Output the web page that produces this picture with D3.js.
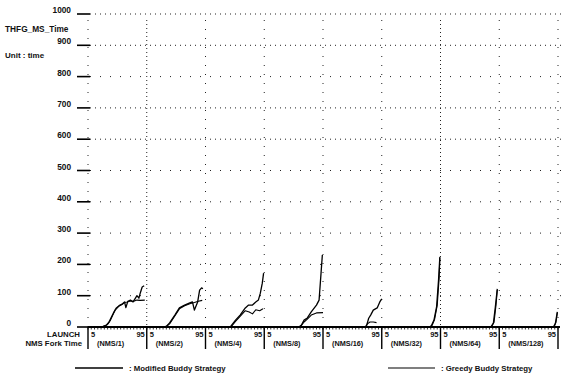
<!DOCTYPE html>
<html>
<head>
<meta charset="utf-8">
<script src="https://cdn.jsdelivr.net/npm/d3@7/dist/d3.min.js"></script>
<style>
  html, body { margin: 0; padding: 0; background: #fff; }
  svg text { font-family: "Liberation Sans", Arial, sans-serif; font-weight: bold; fill: #111; }
</style>
</head>
<body>
<svg id="chart" width="564" height="380"></svg>
<script>
// Y axis levels (execution time)
const yTicks = [0, 100, 200, 300, 400, 500, 600, 700, 800, 900, 1000];

// One panel per fork-time setting
const segments = ["(NMS/1)", "(NMS/2)", "(NMS/4)", "(NMS/8)", "(NMS/16)", "(NMS/32)", "(NMS/64)", "(NMS/128)"];

// Time-axis labels at the edges of each panel
const tStart = 5;
const tEnd = 95;

// Modified Buddy Strategy: [time, value] per panel
const modifiedSeries = [
  [[5,0],[22,0],[28,2],[33,6],[37,15],[40,28],[44,45],[48,60],[54,70],[58,74],[61,80],[63,62],[66,82],[70,86],[74,80],[77,90],[80,100],[83,92],[85,108],[88,128],[91,132]],
  [[5,0],[32,0],[36,4],[40,13],[48,38],[55,61],[63,70],[71,77],[75,80],[78,54],[83,80],[86,118],[89,125],[91,122]],
  [[5,0],[43,0],[51,22],[58,38],[66,61],[71,70],[77,70],[82,80],[86,86],[89,108],[92,140],[94,172]],
  [[5,0],[58,0],[62,6],[66,22],[71,29],[77,48],[85,70],[89,86],[92,172],[94,230]],
  [[5,0],[70,0],[72,6],[75,28],[78,38],[82,54],[88,61],[92,80],[95,90]],
  [[5,0],[78,0],[81,4],[85,22],[89,64],[92,150],[94,224]],
  [[5,0],[82,0],[86,12],[89,64],[92,122]],
  [[5,0],[88,0],[91,12],[94,48]]
];

// Greedy Buddy Strategy: [time, value] per panel
const greedySeries = [
  [[5,0],[24,0],[30,2],[35,8],[39,20],[43,38],[47,55],[52,66],[57,72],[61,78],[65,80],[70,83],[75,82],[80,86],[85,85],[92,86]],
  [[5,0],[34,0],[40,10],[48,35],[55,58],[63,68],[71,74],[78,78],[84,82],[90,85]],
  [[5,0],[44,0],[51,18],[58,34],[66,52],[72,48],[77,42],[82,55],[88,52],[93,58]],
  [[5,0],[60,0],[66,16],[71,25],[77,38],[85,45],[95,46]],
  [[5,0],[70,0],[73,10],[77,16],[82,16],[87,14]],
  [[5,0],[79,0],[82,5],[86,25],[90,70],[93,160],[94,220]],
  [[5,0],[83,0],[87,15],[90,70],[92,118]],
  [[5,0],[89,0],[92,16],[94,46]]
];

const legendLabels = [": Modified Buddy Strategy", ": Greedy Buddy Strategy"];

const svg = d3.select("#chart");

const y = d3.scaleLinear().domain([0, 1000]).range([327, 14]);
const seg = d3.scaleLinear().domain([0, segments.length]).range([88, 558]);
const segX = i => d3.scaleLinear().domain([tStart, tEnd]).range([seg(i), seg(i + 1)]);

// dotted horizontal grid
svg.append("g").selectAll("line").data(yTicks.filter(d => d > 0)).join("line")
  .attr("x1", 90).attr("x2", 562)
  .attr("y1", d => y(d)).attr("y2", d => y(d))
  .attr("stroke", "#222").attr("stroke-width", 1)
  .attr("stroke-dasharray", d => (d >= 900 || d === 600 || d === 700) ? "1,4" : "1,9");

// dotted vertical separators
svg.append("g").selectAll("line").data(d3.range(segments.length + 1)).join("line")
  .attr("x1", d => seg(d)).attr("x2", d => seg(d))
  .attr("y1", y(1000) + 6).attr("y2", y(0))
  .attr("stroke", "#222").attr("stroke-width", 1)
  .attr("stroke-dasharray", d => (d === 1 || d === 6) ? "1,3" : "1,8");

// y axis: short thick ticks with labels
const yAxis = svg.append("g");
yAxis.selectAll("line").data(yTicks).join("line")
  .attr("x1", 77).attr("x2", 90)
  .attr("y1", d => y(d)).attr("y2", d => y(d))
  .attr("stroke", "#000").attr("stroke-width", 1.6);
yAxis.selectAll("text").data(yTicks).join("text")
  .attr("x", 71).attr("y", d => y(d) - 1)
  .attr("text-anchor", "end").attr("font-size", 8.3)
  .text(d => d);

svg.append("text").attr("x", 5).attr("y", 32).attr("font-size", 8.3).text("THFG_MS_Time");
svg.append("text").attr("x", 5).attr("y", 58).attr("font-size", 8).text("Unit : time");

// baseline with small ticks
svg.append("line").attr("x1", 88).attr("x2", 560).attr("y1", y(0)).attr("y2", y(0))
  .attr("stroke", "#000").attr("stroke-width", 1.8);
segments.forEach((s, i) => {
  const sx = segX(i);
  svg.append("g").selectAll("line").data(d3.range(tStart, tEnd + 1, 5)).join("line")
    .attr("x1", d => sx(d)).attr("x2", d => sx(d))
    .attr("y1", y(0)).attr("y2", y(0) + 2.5)
    .attr("stroke", "#000").attr("stroke-width", 0.8);
});

// separators and panel labels
svg.append("g").selectAll("line").data(d3.range(segments.length + 1)).join("line")
  .attr("x1", d => seg(d)).attr("x2", d => seg(d))
  .attr("y1", y(0)).attr("y2", 349)
  .attr("stroke", "#000").attr("stroke-width", 1.4);

segments.forEach((s, i) => {
  const sx = segX(i);
  svg.append("text").attr("x", sx(tStart) + 3).attr("y", 337).attr("font-size", 7.5).text(tStart);
  svg.append("text").attr("x", sx(tEnd) - 2).attr("y", 337).attr("font-size", 7.5)
    .attr("text-anchor", "end").text(tEnd);
  svg.append("text").attr("x", sx(tStart) + 9).attr("y", 346).attr("font-size", 7.3).text(s);
});

svg.append("text").attr("x", 80).attr("y", 337).attr("text-anchor", "end").attr("font-size", 7.8).text("LAUNCH");
svg.append("text").attr("x", 82).attr("y", 346).attr("text-anchor", "end").attr("font-size", 7.8).text("NMS Fork Time");

// curves
const drawSeries = (series, width) => {
  series.forEach((pts, i) => {
    const sx = segX(i);
    const line = d3.line().x(d => sx(d[0])).y(d => y(d[1]));
    svg.append("path").datum(pts).attr("d", line)
      .attr("fill", "none").attr("stroke", "#000")
      .attr("stroke-width", width).attr("stroke-linejoin", "round");
  });
};
drawSeries(greedySeries, 1.1);
drawSeries(modifiedSeries, 1.3);

// legend
const legendPos = [[75, 123], [388, 435]];
legendLabels.forEach((lbl, i) => {
  const [a, b] = legendPos[i];
  svg.append("line").attr("x1", a).attr("x2", b).attr("y1", 368).attr("y2", 368)
    .attr("stroke", "#000").attr("stroke-width", i === 0 ? 1.6 : 1.2);
  svg.append("text").attr("x", b + 6).attr("y", 371).attr("font-size", 7.8).text(lbl);
});
</script>
</body>
</html>
